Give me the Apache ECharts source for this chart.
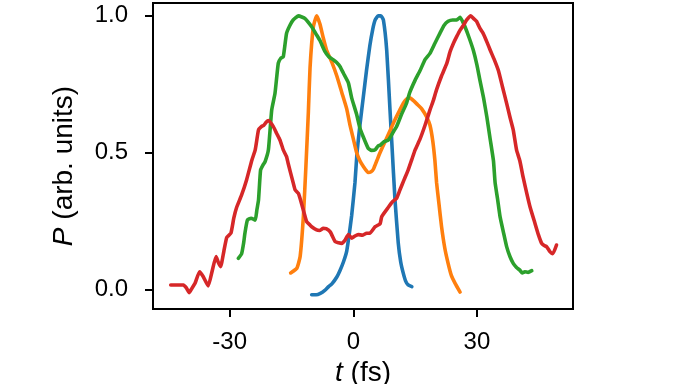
<!DOCTYPE html>
<html><head><meta charset="utf-8">
<script src="https://cdn.jsdelivr.net/npm/echarts@6/dist/echarts.min.js"></script>
<style>html,body{margin:0;padding:0;background:#fff}#c{width:680px;height:384px}</style>
</head><body><div id="c"></div>
<script>
const xTicks = [-30, 0, 30];
const yTicks = [0, 0.5, 1.0];
const blue = [[-10.1,-0.02],[-9,-0.02],[-8,-0.015],[-7,-0.005],[-6,0.01],[-5.2,0.02],[-4,0.045],[-3.2,0.07],[-2.4,0.1],[-1.6,0.14],[-1,0.2],[-0.4,0.27],[0.4,0.39],[0.9,0.5],[1.6,0.6],[2.4,0.7],[3.2,0.8],[4,0.89],[4.7,0.95],[5.3,0.985],[6,1.0],[6.7,1.0],[7.3,0.985],[8.1,0.875],[8.9,0.656],[9.4,0.52],[10.1,0.33],[10.9,0.17],[11.5,0.1],[12.1,0.06],[12.7,0.03],[13.3,0.016],[14.2,0.01]];
const orange = [[-15.2,0.06],[-13.7,0.077],[-12.9,0.12],[-12.1,0.27],[-11.5,0.45],[-10.9,0.65],[-10.5,0.81],[-9.7,0.96],[-8.9,1.0],[-8.1,0.97],[-7.3,0.92],[-6.5,0.875],[-5.2,0.83],[-4,0.78],[-2.8,0.72],[-1.6,0.66],[-0.8,0.6],[0,0.55],[0.8,0.5],[1.6,0.47],[2.4,0.45],[3.6,0.427],[4.3,0.43],[4.9,0.44],[5.7,0.47],[6.5,0.5],[7.7,0.54],[8.9,0.58],[10.1,0.62],[11.3,0.656],[12.1,0.68],[12.9,0.695],[13.7,0.7],[14.6,0.69],[15.6,0.675],[16.6,0.66],[17.8,0.63],[18.6,0.6],[19.3,0.54],[19.8,0.47],[20.2,0.39],[20.8,0.31],[21.4,0.23],[22.2,0.15],[23,0.095],[23.8,0.05],[24.7,0.022],[25.9,-0.01]];
const green = [[-27.9,0.113],[-27.1,0.13],[-26.6,0.17],[-26.3,0.205],[-25.7,0.253],[-24.8,0.26],[-23.8,0.253],[-23.4,0.29],[-23.0,0.327],[-22.5,0.436],[-21.9,0.455],[-21.4,0.467],[-20.6,0.51],[-19.8,0.656],[-19.0,0.717],[-18.2,0.827],[-17.6,0.845],[-17.0,0.85],[-16.2,0.936],[-15.4,0.965],[-14.6,0.985],[-13.3,1.0],[-11.7,0.99],[-10.1,0.96],[-9.1,0.935],[-8.1,0.91],[-6.9,0.87],[-5.9,0.85],[-4.9,0.84],[-4.1,0.83],[-3.2,0.814],[-2.4,0.79],[-1.2,0.755],[-0.4,0.7],[0.8,0.64],[1.6,0.59],[2.4,0.558],[3.6,0.516],[4.4,0.508],[5.3,0.51],[6.0,0.524],[6.5,0.527],[7.5,0.54],[8.5,0.546],[9.5,0.57],[10.5,0.595],[11.7,0.64],[12.9,0.68],[13.7,0.72],[15.0,0.765],[16.2,0.8],[17.4,0.84],[18.6,0.863],[19.8,0.9],[21.0,0.936],[22.0,0.965],[23.0,0.98],[24.1,0.985],[25.1,0.985],[25.9,0.995],[26.5,0.98],[27.1,0.96],[28.1,0.92],[29.1,0.875],[30.0,0.82],[30.7,0.766],[31.6,0.7],[32.4,0.63],[33.2,0.55],[34.0,0.47],[34.4,0.39],[35.0,0.33],[35.6,0.266],[36.4,0.21],[37.2,0.156],[38.0,0.12],[38.8,0.095],[39.6,0.08],[40.4,0.07],[41.0,0.06],[41.6,0.064],[42.4,0.062],[43.3,0.068]];
const red = [[-44.3,0.016],[-41.2,0.016],[-40.5,0.005],[-39.8,-0.012],[-39.1,0.005],[-38.4,0.022],[-37.3,0.064],[-36.4,0.046],[-35.2,0.012],[-34.2,0.07],[-33.3,0.12],[-32.8,0.1],[-32.2,0.083],[-31.4,0.14],[-30.7,0.19],[-29.7,0.205],[-29.0,0.26],[-28.3,0.3],[-27.1,0.345],[-25.9,0.4],[-24.6,0.473],[-23.8,0.51],[-23.0,0.583],[-22.3,0.595],[-21.7,0.6],[-21.1,0.612],[-20.6,0.617],[-19.4,0.595],[-18.6,0.57],[-17.8,0.546],[-17.0,0.51],[-16.2,0.485],[-15.8,0.46],[-14.6,0.39],[-14.1,0.363],[-13.3,0.35],[-12.5,0.31],[-11.7,0.266],[-11.3,0.247],[-10.5,0.235],[-10.1,0.229],[-8.9,0.217],[-8.2,0.215],[-7.3,0.223],[-6.6,0.222],[-5.6,0.21],[-4.4,0.174],[-3.6,0.17],[-2.8,0.168],[-2.0,0.18],[-1.2,0.2],[-0.4,0.187],[0.4,0.195],[1.2,0.2],[2.2,0.198],[3.2,0.205],[4.0,0.205],[5.3,0.229],[6.5,0.24],[6.9,0.266],[8.5,0.3],[9.5,0.32],[10.5,0.333],[11.3,0.363],[12.3,0.4],[13.3,0.436],[14.2,0.475],[15.0,0.51],[16.2,0.55],[17.4,0.6],[18.6,0.656],[19.4,0.69],[20.2,0.73],[21.4,0.78],[22.7,0.827],[23.5,0.87],[24.3,0.9],[25.1,0.925],[25.9,0.948],[26.7,0.965],[27.5,0.985],[28.5,1.0],[29.2,0.99],[29.9,0.98],[30.7,0.955],[31.5,0.936],[32.4,0.905],[33.2,0.875],[34.2,0.84],[35.2,0.8],[36.2,0.74],[37.2,0.68],[38.0,0.63],[38.8,0.583],[39.6,0.51],[40.4,0.47],[41.2,0.41],[42.1,0.35],[42.9,0.3],[44.1,0.24],[44.9,0.2],[45.7,0.168],[46.3,0.16],[46.9,0.156],[47.7,0.138],[48.4,0.13],[49.3,0.162]];

const chart = echarts.init(document.getElementById('c'), null, {renderer: 'canvas'});
const font = "'Liberation Sans', Arial, sans-serif";
const mkSeries = (d, c) => ({type: 'line', data: d, showSymbol: false, symbol: 'none', smooth: 0.15,
  lineStyle: {color: c, width: 3.6, cap: 'round', join: 'round'}, itemStyle: {color: c}});
chart.setOption({
  animation: false,
  backgroundColor: '#fff',
  grid: {left: 153, right: 107, top: 3, bottom: 75, show: true, borderColor: '#000', borderWidth: 2, backgroundColor: 'transparent', containLabel: false, outerBoundsMode: 'none'},
  xAxis: {
    type: 'value', min: -48.6, max: 53.3,
    name: '{i|t} (fs)', nameLocation: 'middle', nameGap: 50,
    nameTextStyle: {fontFamily: font, fontSize: 28, color: '#000', rich: {i: {fontStyle: 'italic', fontFamily: font, fontSize: 28, color: '#000'}}},
    axisLine: {show: true, onZero: false, lineStyle: {color: '#000', width: 2}},
    axisTick: {show: true, length: 8, lineStyle: {color: '#000', width: 2}, customValues: xTicks},
    axisLabel: {fontFamily: font, fontSize: 24, color: '#000', margin: 21, customValues: xTicks, formatter: v => String(v)},
    splitLine: {show: false}
  },
  yAxis: {
    type: 'value', min: -0.072, max: 1.047,
    name: '{i|P} (arb. units)', nameLocation: 'middle', nameGap: 75, nameRotate: 90,
    nameTextStyle: {fontFamily: font, fontSize: 28, color: '#000', padding: [0, 20, 0, 0], rich: {i: {fontStyle: 'italic', fontFamily: font, fontSize: 28, color: '#000'}}},
    axisLine: {show: true, onZero: false, lineStyle: {color: '#000', width: 2}},
    axisTick: {show: true, length: 8, lineStyle: {color: '#000', width: 2}, customValues: yTicks},
    axisLabel: {fontFamily: font, fontSize: 24, color: '#000', margin: 25, customValues: yTicks, formatter: v => v.toFixed(1)},
    splitLine: {show: false}
  },
  series: [mkSeries(blue, '#1f77b4'), mkSeries(orange, '#ff7f0e'), mkSeries(green, '#2ca02c'), mkSeries(red, '#d62728')]
});
</script></body></html>
